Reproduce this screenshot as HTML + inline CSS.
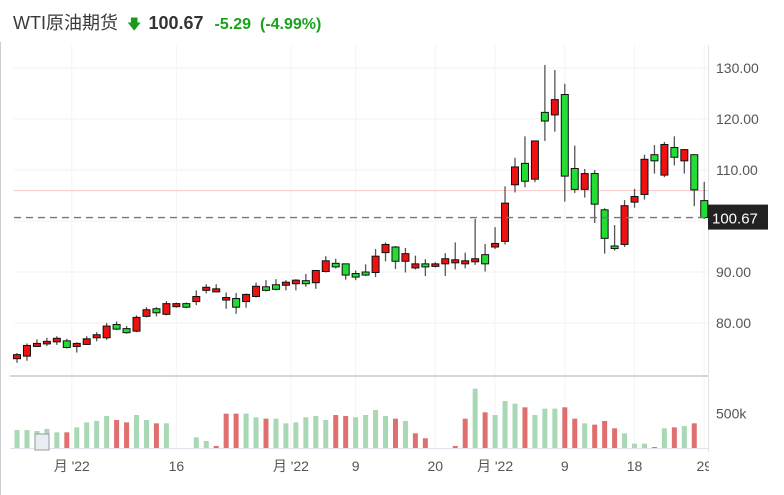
<!DOCTYPE html>
<html><head><meta charset="utf-8">
<style>
body{margin:0;width:784px;height:495px;background:#fff;overflow:hidden;font-family:"Liberation Sans","Noto Sans CJK SC",sans-serif;}
#hdr{position:absolute;left:13px;top:9px;font-size:18px;white-space:nowrap;color:#333;}
#hdr span{display:inline-block;}
</style></head><body>
<div id="hdr">
<span style="color:#3a3a3a">WTI原油期货</span>
<span style="color:#1a9a1a;font-size:14px;margin-left:4px">&#x1F847;</span>
<span style="font-weight:bold;color:#333;margin-left:2px">100.67</span>
<span style="font-weight:bold;color:#1aa31a;font-size:16px;margin-left:6px">-5.29</span>
<span style="font-weight:bold;color:#1aa31a;font-size:16px;margin-left:4px">(-4.99%)</span>
</div>
<svg id="chart" width="784" height="495" style="position:absolute;left:0;top:0">
<defs><clipPath id="plotclip"><rect x="0" y="0" width="709" height="495"/></clipPath></defs>
</svg>
<script>
const opens=[73.0,73.5,75.4,75.9,76.3,76.5,75.4,75.8,77.1,77.1,79.7,78.9,78.4,81.3,82.8,81.7,83.2,83.8,84.2,86.4,86.1,84.5,84.8,84.2,85.2,87.1,87.5,87.4,87.7,88.3,87.9,90.1,91.7,91.6,89.7,90.0,89.9,93.8,94.9,92.1,90.8,91.6,91.1,91.6,91.8,91.6,92.0,93.4,94.9,96.0,107.1,111.3,108.2,121.3,120.8,124.8,110.3,106.2,109.3,102.2,95.1,95.4,103.7,105.2,113.0,109.0,114.4,111.8,113.0,104.0];
const closes=[73.8,75.6,76.0,76.4,77.0,75.2,76.0,76.9,77.7,79.4,78.8,78.1,81.1,82.6,82.0,83.8,83.8,83.1,85.2,87.0,86.7,85.0,83.1,85.6,87.2,86.4,86.6,88.0,88.4,87.7,90.3,92.2,91.0,89.4,89.0,89.4,93.1,95.4,92.1,93.6,91.6,91.0,91.6,92.6,92.4,92.2,92.6,91.6,95.6,103.5,110.6,107.8,115.7,119.6,123.8,108.8,106.2,109.3,103.3,96.6,94.6,103.0,104.8,112.1,111.8,115.0,112.5,114.0,106.1,100.67];
const highs=[74.1,76.0,76.8,77.1,77.4,76.9,76.2,77.4,78.2,80.0,80.3,79.4,81.5,83.1,83.1,84.3,84.0,84.0,86.4,87.6,87.6,86.0,85.9,85.8,87.9,88.4,88.6,88.4,88.6,89.6,90.3,93.1,92.6,91.6,90.3,91.5,94.5,95.8,95.1,94.7,93.2,92.5,91.9,93.7,95.8,93.8,100.4,95.5,98.8,106.8,112.4,116.6,115.7,130.6,129.6,126.9,114.8,110.2,110.0,102.5,99.2,104.1,106.3,113.0,114.9,115.5,116.6,114.0,113.0,107.7];
const lows=[72.2,72.6,75.4,75.5,75.7,75.0,74.2,75.7,76.4,76.7,78.6,77.9,78.2,81.1,81.3,81.5,83.0,82.9,83.5,85.8,86.0,82.8,81.8,83.0,85.0,86.2,86.4,86.4,86.4,87.1,86.7,89.9,90.7,88.5,88.4,89.2,89.0,92.1,90.6,89.9,90.5,89.2,90.9,89.2,90.5,90.7,91.4,90.1,94.5,95.4,105.6,106.6,107.6,115.7,117.5,103.8,105.5,104.6,99.6,93.6,94.2,94.9,102.6,104.2,109.3,108.6,110.9,109.3,102.9,100.4];
const volumes=[260,260,245,275,226,226,298,370,390,462,404,370,476,404,356,356,0,0,154,101,29,496,496,496,443,423,423,356,370,443,462,404,476,462,443,476,548,462,423,390,212,140,0,0,29,423,856,515,476,678,640,587,476,568,568,587,423,356,337,390,284,212,63,63,14,284,298,317,356];
const volUp=[0,0,0,0,0,1,0,0,0,0,1,1,0,0,1,0,0,0,0,0,1,1,1,0,0,1,0,0,0,0,0,0,1,1,0,0,0,0,1,0,1,1,0,0,1,1,0,1,0,0,0,1,0,0,0,1,1,0,1,1,1,0,0,0,1,0,1,0,1];
const priceTicks=[130,120,110,100,90,80];
const dateLabels=["月 '22","16","月 '22","9","20","月 '22","9","18","29"];
const dateIdx=[5.5,16,27.5,34,42,48,55,62,69];

const svg=document.getElementById('chart');
const NS='http://www.w3.org/2000/svg';
function mk(tag,attrs,parent){const e=document.createElementNS(NS,tag);for(const k in attrs)e.setAttribute(k,attrs[k]);(parent||svg).appendChild(e);return e;}
const X0=17,DX=9.96;
function xs(i){return X0+i*DX;}
function ys(p){return 221-(p-100)*5.1;}
const VB=448,VK=0.0693;
function yv(v){return VB-v*VK;}

const grid=mk('g',{});


priceTicks.forEach(t=>{mk('line',{x1:14,x2:708,y1:ys(t),y2:ys(t),stroke:'#f2f2f2'},grid);});
dateIdx.forEach(i=>{mk('line',{x1:xs(i),x2:xs(i),y1:45,y2:448,stroke:'#f4f4f4'},grid);});
mk('line',{x1:0.5,x2:0.5,y1:42,y2:495,stroke:'#ccc'});
mk('line',{x1:708.5,x2:708.5,y1:45,y2:452,stroke:'#dde3ea'});
mk('line',{x1:10,x2:708,y1:376,y2:376,stroke:'#d6d6d6','stroke-width':2});
mk('line',{x1:10,x2:708,y1:448.5,y2:448.5,stroke:'#dde3ea'});
const pc=mk('line',{x1:14,x2:708,y1:ys(105.96),y2:ys(105.96),stroke:'#f8c8c8'});


priceTicks.forEach(t=>{
 const tx=mk('text',{x:716,y:ys(t)+5,'font-size':14,fill:'#555'});
 tx.textContent=t.toFixed(2);
 
 
});
const vg=mk('g',{});


volumes.forEach((v,i)=>{
 if(!v)return;
 const r=mk('rect',{x:xs(i)-2.5,y:yv(v),width:5,height:VB-yv(v),fill:volUp[i]?'#e07070':'#a8d8b4'},vg);
 
 
});
const vt=mk('text',{x:716,y:yv(500)+5,'font-size':14,fill:'#555'});
vt.textContent='500k';


const bi=mk('rect',{x:35,y:434,width:14,height:16,fill:'#e8eef4',stroke:'#999'});


const cg=mk('g',{});


opens.forEach((o,i)=>{
 const c=closes[i],up=c>=o,x=xs(i);
 const w=mk('line',{x1:x,x2:x,y1:ys(highs[i]),y2:ys(lows[i]),stroke:'#555','stroke-width':1.3},cg);
 
 
 const top=ys(Math.max(o,c)),bot=ys(Math.min(o,c));
 const b=mk('rect',{x:x-3.5,y:top,width:7,height:Math.max(bot-top,2),fill:up?'#ee1111':'#22dd33',stroke:'#111','stroke-width':1},cg);
 
 
});
const last=closes[closes.length-1];
const ll=mk('line',{x1:14,x2:708,y1:ys(last),y2:ys(last),stroke:'#777','stroke-dasharray':'7,5','stroke-width':1.3});


const lb=mk('rect',{x:708,y:ys(last)-13,width:60,height:25,fill:'#222'});


const lt=mk('text',{x:712,y:ys(last)+6,'font-size':15,fill:'#fff'});
lt.textContent=last.toFixed(2);


const dg=mk('g',{'clip-path':'url(#plotclip)'});


dateLabels.forEach((d,i)=>{
 const t=mk('text',{x:xs(dateIdx[i]),y:471,'font-size':14,fill:'#555','text-anchor':'middle'},dg);
 t.textContent=d;
 
 
});
</script>
</body></html>
